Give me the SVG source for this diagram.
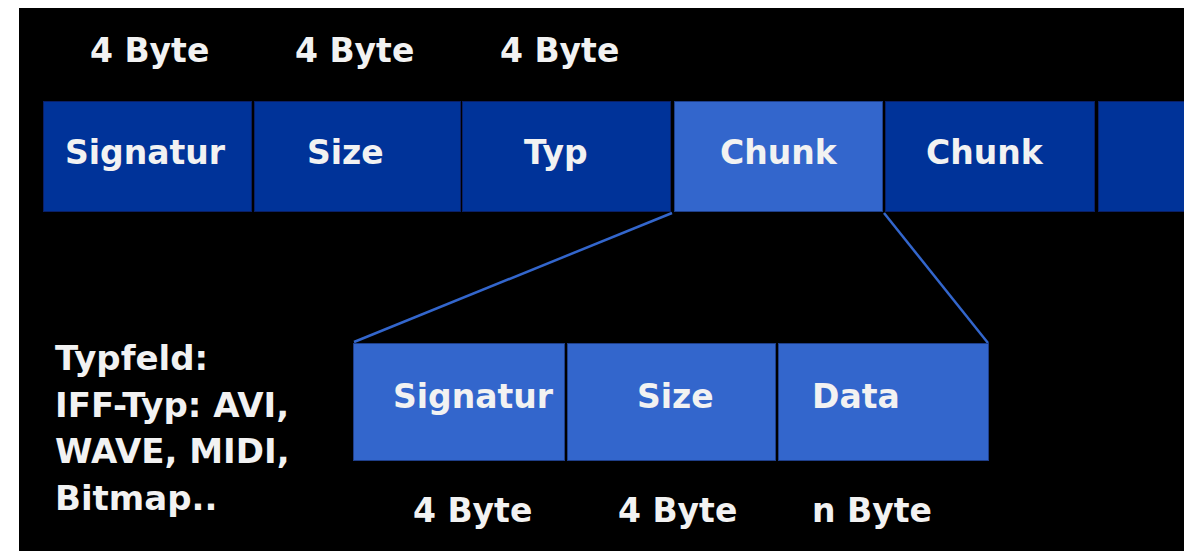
<svg xmlns="http://www.w3.org/2000/svg" width="1184" height="551" viewBox="0 0 1184 551">
<style>
.t{font-family:"DejaVu Sans","Liberation Sans",sans-serif;font-weight:bold;font-size:33px;fill:#f2f2f2}
.tf{font-size:34px}
.dk{fill:#003399;stroke:#0a1f66;stroke-width:1}
.lt{fill:#3366cc;stroke:#1f3f8a;stroke-width:1}
.c{stroke:#3366cc;stroke-width:2.5;fill:none}
</style>
<rect x="0" y="0" width="1184" height="551" fill="#ffffff"/>
<rect x="19" y="8" width="1165" height="543" fill="#000000"/>
<g id="labels-top">
<text class="t" x="90" y="62">4 Byte</text>
<text class="t" x="295" y="62">4 Byte</text>
<text class="t" x="500" y="62">4 Byte</text>
</g>
<g id="connectors">
<line class="c" x1="672" y1="213" x2="354" y2="342"/>
<line class="c" x1="884" y1="213" x2="988" y2="343"/>
</g>
<g id="top-signatur"><rect class="dk" x="43.5" y="101.5" width="208" height="110"/><text class="t" x="65" y="164">Signatur</text></g>
<g id="top-size"><rect class="dk" x="254.5" y="101.5" width="206" height="110"/><text class="t" x="307" y="164">Size</text></g>
<g id="top-typ"><rect class="dk" x="462.5" y="101.5" width="208" height="110"/><text class="t" x="524" y="164">Typ</text></g>
<g id="top-chunk1"><rect class="lt" x="674.5" y="101.5" width="208" height="110"/><text class="t" x="720" y="164">Chunk</text></g>
<g id="top-chunk2"><rect class="dk" x="885.5" y="101.5" width="209" height="110"/><text class="t" x="926" y="164">Chunk</text></g>
<g id="top-more"><rect class="dk" x="1098.5" y="101.5" width="90" height="110"/></g>
<g id="bottom-signatur"><rect class="lt" x="353.5" y="343.5" width="211" height="117"/><text class="t" x="393" y="408">Signatur</text></g>
<g id="bottom-size"><rect class="lt" x="567.5" y="343.5" width="208" height="117"/><text class="t" x="637" y="408">Size</text></g>
<g id="bottom-data"><rect class="lt" x="778.5" y="343.5" width="210" height="117"/><text class="t" x="812" y="408">Data</text></g>
<g id="labels-bottom">
<text class="t" x="413" y="522">4 Byte</text>
<text class="t" x="618" y="522">4 Byte</text>
<text class="t" x="812" y="522">n Byte</text>
</g>
<g id="typfeld">
<text class="t tf" x="55" y="370">Typfeld:</text>
<text class="t tf" x="55" y="417">IFF-Typ: AVI,</text>
<text class="t tf" x="55" y="463">WAVE, MIDI,</text>
<text class="t tf" x="55" y="510">Bitmap..</text>
</g>
</svg>
